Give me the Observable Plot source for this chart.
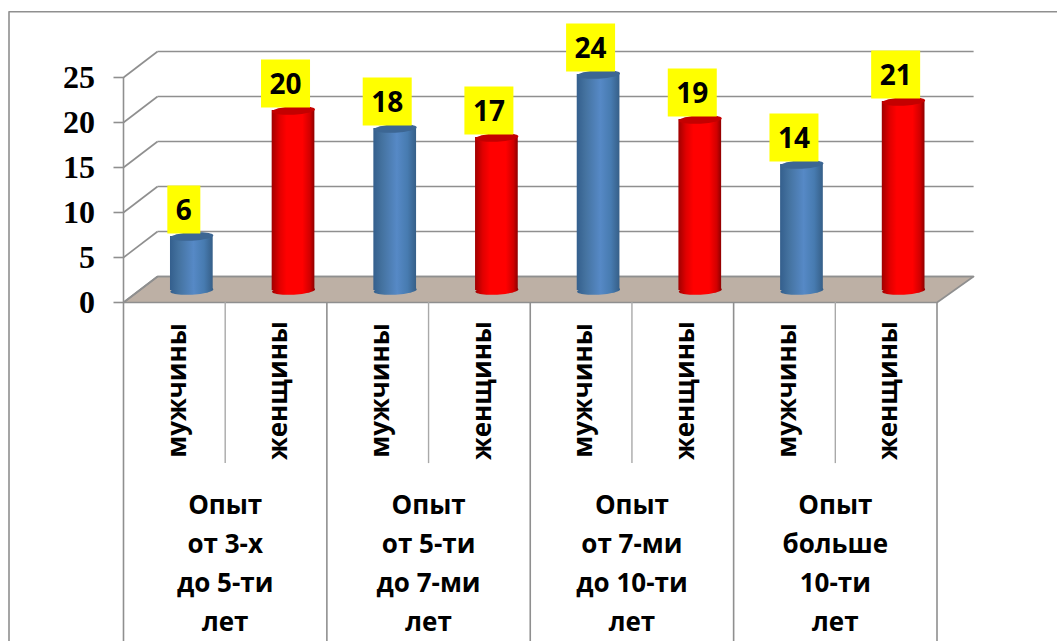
<!DOCTYPE html>
<html>
<head>
<meta charset="utf-8">
<script src="https://cdn.jsdelivr.net/npm/d3@7"></script>
<script src="https://cdn.jsdelivr.net/npm/@observablehq/plot@0.6"></script>
<style>
html,body{margin:0;padding:0;background:#fff;overflow:hidden}
svg{display:block}
</style>
</head>
<body>
<div id="chart"></div>
<script>
const groups = ["Опыт\nот 3-х\nдо 5-ти\nлет","Опыт\nот 5-ти\nдо 7-ми\nлет","Опыт\nот 7-ми\nдо 10-ти\nлет","Опыт\nбольше\n10-ти\nлет"];
const genders = ["мужчины","женщины"];
const men = [6,18,24,14];
const women = [20,17,19,21];
const yTicks = [0,5,10,15,20,25];

// depth of the 3D box and of the cylinders, in data units
const backX = 0.335, backXRight = 0.36, backY = 2.89;
const barX = 0.172, barY = 1.333, barW = 0.42;
const gray = "#8f8f8f";
const sans = "'Open Sans', 'Noto Sans', sans-serif";

const rows = [];
groups.forEach((g,i)=>{
  rows.push({group:g,gender:genders[0],value:men[i],pos:i*2});
  rows.push({group:g,gender:genders[1],value:women[i],pos:i*2+1});
});
const n = rows.length;
const byGender = k => rows.filter(r=>r.gender===genders[k]);

const ellipse = {draw(ctx,size){
  const rx=Math.sqrt(size/Math.PI), ry=4.2, a=-0.055, N=48;
  for(let k=0;k<=N;k++){
    const t=k/N*2*Math.PI, ex=rx*Math.cos(t), ey=ry*Math.sin(t);
    const px=ex*Math.cos(a)-ey*Math.sin(a), py=ex*Math.sin(a)+ey*Math.cos(a);
    k?ctx.lineTo(px,py):ctx.moveTo(px,py);
  }
  ctx.closePath();
}};
const labelBox = {draw(ctx,size){
  const hw=Math.sqrt(size/Math.PI), hh=24;
  ctx.moveTo(-hw,-hh);ctx.lineTo(hw,-hh);ctx.lineTo(hw,hh);ctx.lineTo(-hw,hh);ctx.closePath();
}};

function defs(){
  const s=d3.create("svg:g");
  const d=s.append("defs");
  const grad=(id,stops)=>{
    const g=d.append("linearGradient").attr("id",id).attr("x1",0).attr("x2",1).attr("y1",0).attr("y2",0);
    stops.forEach(([o,c])=>g.append("stop").attr("offset",o).attr("stop-color",c));
  };
  grad("blue",[[0,"#345f8d"],[0.2,"#44729f"],[0.55,"#5689c6"],[0.8,"#477bb0"],[1,"#365f88"]]);
  grad("red",[[0,"#a00000"],[0.18,"#e00000"],[0.35,"#ff0000"],[0.72,"#ff0000"],[0.9,"#d00000"],[1,"#8e0000"]]);
  return s.node();
}

const barMarks = (k,grad,cap)=>[
  Plot.dot(byGender(k),{x:d=>d.pos+0.5+barX,y:()=>barY,r:()=>21.5,symbol:ellipse,fill:grad}),
  Plot.rect(byGender(k),{x1:d=>d.pos+0.5+barX-barW/2,x2:d=>d.pos+0.5+barX+barW/2,y1:()=>barY,y2:d=>d.value+barY,fill:grad}),
  Plot.dot(byGender(k),{x:d=>d.pos+0.5+barX,y:d=>d.value+barY,r:()=>21.5,symbol:ellipse,fill:cap})
];

const chart = Plot.plot({
  width:1057,height:641,
  marginLeft:123,marginRight:120.5,marginTop:77,marginBottom:339,
  style:{background:"#fff",fontFamily:sans,color:"#000",overflow:"hidden"},
  x:{domain:[0,n],axis:null},
  y:{domain:[0,25],axis:null},
  r:{type:"identity"},
  marks:[
    defs,
    // outer frame
    Plot.line([[-1.126,-38],[-1.126,32.3],[9.5,32.3]],{stroke:gray,strokeWidth:1.6}),
    // floor
    Plot.line([[0,0],[n,0],[n+backXRight,backY],[backX,backY],[0,0]],{fill:"#bdb0a5",stroke:gray,strokeWidth:1.6}),
    // wall grid
    Plot.link(yTicks,{x1:()=>0,y1:d=>d,x2:()=>backX,y2:d=>d+backY,stroke:gray,strokeWidth:1.6}),
    Plot.link(yTicks,{x1:()=>backX,y1:d=>d+backY,x2:()=>n+backXRight,y2:d=>d+backY,stroke:gray,strokeWidth:1.6}),
    Plot.axisY({ticks:yTicks,anchor:"left",tickSize:9.5,tickPadding:19,stroke:gray,strokeWidth:1.6,
      fontSize:32,fontWeight:"bold",fontFamily:"'Liberation Serif',serif",label:null,fill:"#000"}),
    Plot.ruleX([0],{y1:0,y2:25,stroke:gray,strokeWidth:1.6}),
    Plot.ruleX(d3.range(0,n+1,2),{y1:-37.7,y2:0,stroke:gray,strokeWidth:1.6}),
    Plot.ruleX(d3.range(1,n,2),{y1:-17.9,y2:0,stroke:"#a9a9a9",strokeWidth:1.4}),
    ...barMarks(0,"url(#blue)","#3c6693"),
    ...barMarks(1,"url(#red)","#c40000"),
    // value boxes
    Plot.dot(rows,{x:d=>d.pos+0.5+barX,y:d=>d.value+barY,dx:-8,dy:-27,symbol:labelBox,r:d=>String(d.value).length>1?24.5:16.5,fill:"#ffff00"}),
    Plot.text(rows,{x:d=>d.pos+0.5+barX,y:d=>d.value+barY,text:d=>String(d.value),dx:-8,dy:-25,
      fontSize:28,fontWeight:"bold",fill:"#000"}),
    // category labels
    Plot.text(rows,{x:d=>d.pos+0.5,y:()=>0,text:"gender",rotate:-90,dx:3,dy:88,fontSize:26,fontWeight:"bold",fill:"#000"}),
    Plot.text(groups,{x:(d,i)=>i*2+1,y:()=>0,text:d=>d,dy:258,fontSize:26,lineHeight:1.5,fontWeight:"bold",fill:"#000"})
  ]
});
document.getElementById("chart").append(chart);
</script>
</body>
</html>
